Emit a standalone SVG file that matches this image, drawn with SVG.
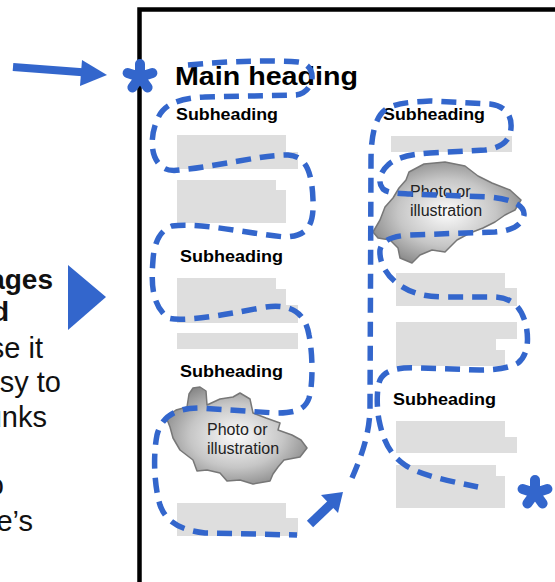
<svg xmlns="http://www.w3.org/2000/svg" xmlns:xlink="http://www.w3.org/1999/xlink" width="555" height="582" viewBox="0 0 555 582">
  <style>
    .side-b { font-family: "Liberation Sans", Arial, sans-serif; font-weight: bold; font-size: 28px; fill: #111; }
    .side { font-family: "Liberation Sans", Arial, sans-serif; font-size: 29px; fill: #111; }
    .main { font-family: "Liberation Sans", Arial, sans-serif; font-weight: bold; font-size: 26px; fill: #000; }
    .sub { font-family: "Liberation Sans", Arial, sans-serif; font-weight: bold; font-size: 17px; fill: #000; }
    .cap { font-family: "Liberation Sans", Arial, sans-serif; font-size: 16px; fill: #222; }
    .block { fill: #dedede; }
    .cloud { fill: url(#cloudFill); stroke: #777; stroke-width: 1.5; stroke-linejoin: round; }
    .trail { fill: none; stroke: #3366cc; stroke-width: 5.5; stroke-dasharray: 15 9; stroke-linecap: butt; }
    .blue { fill: #3366cc; }
    .frame { fill: none; stroke: #000; stroke-width: 4.5; }
  </style>
  <defs>
    <radialGradient id="cloudFill" cx="0.5" cy="0.5" r="0.6">
      <stop offset="0" stop-color="#fcfcfc"/>
      <stop offset="0.55" stop-color="#c6c6c6"/>
      <stop offset="1" stop-color="#7e7e7e"/>
    </radialGradient>
    <!-- five-armed asterisk marker -->
    <g id="star">
      <path d="M0,0 L0,-13 M0,0 L12.4,-4 M0,0 L7.6,10.5 M0,0 L-7.6,10.5 M0,0 L-12.4,-4" fill="none" stroke="#3366cc" stroke-width="10" stroke-linecap="round" stroke-linejoin="round"/>
    </g>
  </defs>

  <rect width="555" height="582" fill="#fff"/>

  <!-- side text, cut at the left edge -->
  <g id="side-text">
    <text class="side-b" x="53" y="289" text-anchor="end">ages</text>
    <text class="side-b" x="9" y="321" text-anchor="end">d</text>
    <text class="side" x="43" y="358" text-anchor="end">se it</text>
    <text class="side" x="61" y="392" text-anchor="end">sy to</text>
    <text class="side" x="47" y="427" text-anchor="end">unks</text>
    <text class="side" x="4" y="495" text-anchor="end">o</text>
    <text class="side" x="33" y="531" text-anchor="end">e’s</text>
  </g>

  <!-- big pointer triangle -->
  <g id="pointer">
    <polygon class="blue" points="68,265 106,297 68,330"/>
  </g>

  <!-- page frame -->
  <g id="page">
    <path class="frame" d="M139.5,582 L139.5,9.5 L555,9.5"/>
  </g>

  <g id="main-heading">
    <text class="main" x="175" y="85" textLength="183" lengthAdjust="spacingAndGlyphs">Main heading</text>
  </g>

  <!-- left column -->
  <g id="section-1">
    <text class="sub" x="176" y="120" textLength="102" lengthAdjust="spacingAndGlyphs">Subheading</text>
    <path class="block" d="M177,135 H286 V152 H298 V169 H177 Z"/>
    <path class="block" d="M177,180 H276 V190 H286 V223 H177 Z"/>
  </g>
  <g id="section-2">
    <text class="sub" x="180" y="262" textLength="103" lengthAdjust="spacingAndGlyphs">Subheading</text>
    <path class="block" d="M177,278 H276 V289 H286 V305 H298 V323 H177 Z"/>
    <rect class="block" x="177" y="333" width="121" height="16"/>
  </g>
  <g id="section-3">
    <text class="sub" x="180" y="377" textLength="103" lengthAdjust="spacingAndGlyphs">Subheading</text>
    <path class="cloud" d="M189,394 L193,388 L200,387 L206,391 L207,405 L220,399 L233,397 L240,393 L250,399 L253,413 L266,418 L280,423 L278,430 L292,435 L301,440 L307,448 L300,457 L284,460 L278,467 L273,474 L270,481 L253,484 L240,480 L227,481 L220,473 L207,470 L197,471 L193,460 L180,450 L173,438 L170,427 L166,417 L176,410 L187,407 Z"/>
    <text class="cap" x="207" y="435">Photo or</text>
    <text class="cap" x="207" y="454">illustration</text>
    <path class="block" d="M177,503 H286 V518 H298 V536 H177 Z"/>
  </g>

  <!-- right column -->
  <g id="section-4">
    <text class="sub" x="383" y="120" textLength="102" lengthAdjust="spacingAndGlyphs">Subheading</text>
    <rect class="block" x="391" y="136" width="121" height="16"/>
    <path class="cloud" d="M409,172 L424,164 L445,162 L465,166 L478,176 L492,183 L510,190 L521,200 L515,210 L505,215 L495,222 L483,228 L470,233 L457,240 L445,252 L432,250 L420,255 L412,263 L400,258 L398,248 L390,240 L378,238 L373,232 L380,220 L385,207 L393,198 L399,188 L406,180 Z"/>
    <text class="cap" x="410" y="197">Photo or</text>
    <text class="cap" x="410" y="216">illustration</text>
    <path class="block" d="M396,273 H505 V288 H517 V306 H396 Z"/>
    <path class="block" d="M396,322 H517 V339 H496 V350 H505 V366 H396 Z"/>
  </g>
  <g id="section-5">
    <text class="sub" x="393" y="405" textLength="103" lengthAdjust="spacingAndGlyphs">Subheading</text>
    <path class="block" d="M396,421 H505 V437 H517 V453 H396 Z"/>
    <path class="block" d="M396,465 H496 V476 H505 V508 H396 Z"/>
  </g>

  <!-- reading path, arrows and start/end marks -->
  <g id="connectors">
    <path class="trail" d="M188,65 C230,61 270,60 298,62 C318,64 316,92 296,95 L205,97 C180,98 164,104 158,118 C150,135 150,155 160,165 C166,171 172,171 180,170 C220,166 260,155 288,155 C305,156 312,170 313,200 C314,225 308,236 285,237 C250,234 200,222 172,226 C160,230 154,243 153,260 C151,285 152,305 168,318 C180,322 220,316 260,308 C290,302 305,312 309,335 C313,355 313,385 309,398 C305,410 295,413 275,413 L200,408 C175,408 162,416 157,435 C153,455 154,485 160,505 C166,522 180,530 205,533 L297,535"/>
    <path class="trail" d="M352,478 C362,455 369,435 370,410 L371,160 C371,140 374,118 385,110 C395,103 410,102 430,101 L490,104 C505,106 512,115 511,128 C510,142 500,148 485,150 L430,153 C410,154 395,158 388,165 C380,172 377,182 383,189 C388,193 395,193 410,194 L490,197 C510,199 525,205 524,215 C522,226 510,231 495,232 L410,235 C392,236 382,240 380,250 C379,262 386,275 398,284 C410,293 425,297 445,297 L495,297 C515,298 522,310 526,325 C529,340 528,355 518,363 C510,368 495,370 480,370 L420,368 C398,367 385,370 380,380 C376,390 377,410 379,420 C383,440 390,455 405,465 C420,475 445,480 478,487"/>
    <!-- entry arrow -->
    <line x1="13" y1="67" x2="86" y2="72.5" stroke="#3366cc" stroke-width="8"/>
    <polygon class="blue" points="82,60 107,75 80,86"/>
    <!-- column-jump arrow -->
    <line x1="310" y1="524" x2="332" y2="503" stroke="#3366cc" stroke-width="9"/>
    <polygon class="blue" points="343,492 338,513 321,495"/>
    <use xlink:href="#star" x="140" y="77"/>
    <use xlink:href="#star" x="535" y="493"/>
  </g>
</svg>
